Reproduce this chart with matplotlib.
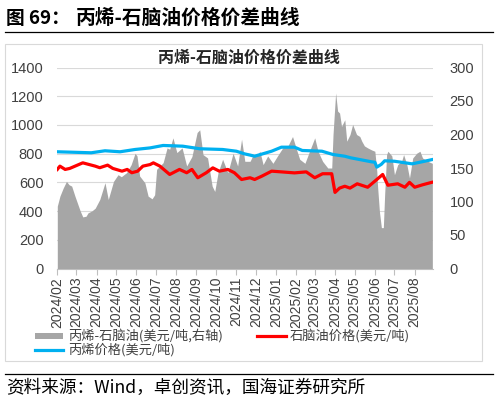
import matplotlib
matplotlib.use("Agg")
import matplotlib.pyplot as plt
import matplotlib.dates as mdates
import pandas as pd
from matplotlib.lines import Line2D
from matplotlib.patches import Rectangle

plt.rcParams['font.family'] = ['Liberation Sans', 'Noto Sans CJK SC', 'DejaVu Sans']
CJK = ['Noto Sans CJK SC', 'DejaVu Sans']

# ---------------- data ----------------
spread_dates = ["2024-02-01","2024-02-05","2024-02-10","2024-02-15","2024-02-19","2024-02-23","2024-02-28",
    "2024-03-07","2024-03-11","2024-03-16","2024-03-19","2024-03-25","2024-03-30","2024-04-06","2024-04-14",
    "2024-04-19","2024-04-27","2024-05-04","2024-05-09","2024-05-17","2024-05-24","2024-05-30","2024-06-02",
    "2024-06-06","2024-06-14","2024-06-19","2024-06-25","2024-06-29","2024-07-02","2024-07-12","2024-07-18",
    "2024-07-22","2024-07-27","2024-08-02","2024-08-10","2024-08-17","2024-08-25","2024-09-02","2024-09-06",
    "2024-09-11","2024-09-18","2024-09-25","2024-09-29","2024-10-04","2024-10-11","2024-10-19","2024-10-27",
    "2024-11-03","2024-11-09","2024-11-14","2024-11-22","2024-11-26","2024-12-02","2024-12-07","2024-12-12",
    "2024-12-19","2024-12-27","2025-01-03","2025-01-11","2025-01-19","2025-01-26","2025-02-01","2025-02-06",
    "2025-02-14","2025-02-21","2025-03-01","2025-03-06","2025-03-13","2025-03-21","2025-03-27","2025-03-29",
    "2025-04-02","2025-04-05","2025-04-08","2025-04-11","2025-04-16","2025-04-19","2025-04-24","2025-04-28",
    "2025-05-04","2025-05-09","2025-05-12","2025-05-16","2025-05-21","2025-05-27","2025-06-01","2025-06-04",
    "2025-06-05","2025-06-08","2025-06-11","2025-06-14","2025-06-16","2025-06-19","2025-06-21","2025-06-27",
    "2025-07-01","2025-07-06","2025-07-12","2025-07-15","2025-07-20","2025-07-24","2025-07-29","2025-08-04",
    "2025-08-09","2025-08-13","2025-08-21","2025-08-28"]
spread_vals = [93,108,120,130,125,123,108,
    86,77,78,83,86,90,103,128,
    103,130,140,137,143,155,172,168,
    138,128,108,104,110,148,158,180,
    178,195,173,180,153,167,203,207,
    170,165,123,115,143,163,143,172,
    153,193,160,160,168,167,175,155,
    168,157,168,180,183,197,178,163,
    157,175,195,175,160,150,150,200,
    262,235,232,212,222,190,200,215,
    200,197,190,183,180,177,175,145,
    125,85,61,61,110,170,175,168,
    140,155,160,170,155,135,165,172,
    175,165,160,157]

naphtha_dates = ["2024-02-01","2024-02-05","2024-02-13","2024-02-20","2024-03-11","2024-03-30","2024-04-06",
    "2024-04-18","2024-04-26","2024-05-10","2024-05-18","2024-05-25","2024-06-03","2024-06-11","2024-06-22",
    "2024-06-27","2024-07-07","2024-07-22","2024-08-06","2024-08-17","2024-08-25","2024-09-03","2024-09-16",
    "2024-09-26","2024-10-06","2024-10-19","2024-10-29","2024-11-09","2024-11-22","2024-11-29","2024-12-10",
    "2024-12-25","2025-01-09","2025-01-29","2025-02-16","2025-03-01","2025-03-13","2025-03-27","2025-04-01",
    "2025-04-08","2025-04-16","2025-04-24","2025-05-05","2025-05-21","2025-06-04","2025-06-13","2025-06-21",
    "2025-07-06","2025-07-17","2025-07-24","2025-08-01","2025-08-13","2025-08-27"]
naphtha_vals = [690,713,690,697,736,713,702,
    720,697,678,690,667,678,713,724,
    736,713,655,690,667,690,632,667,
    701,678,690,667,620,632,620,643,
    678,673,666,673,632,660,660,530,
    560,573,560,590,566,620,655,580,
    590,566,600,566,583,600]

propylene_dates = ["2024-02-01","2024-03-24","2024-04-14","2024-05-07","2024-05-30","2024-06-22","2024-07-12",
    "2024-08-11","2024-09-06","2024-10-11","2024-11-01","2024-11-14","2024-11-22","2024-11-29","2024-12-25",
    "2025-01-09","2025-01-29","2025-02-10","2025-03-12","2025-03-29","2025-04-16","2025-04-25","2025-05-27",
    "2025-06-01","2025-06-04","2025-06-11","2025-06-16","2025-07-01","2025-07-28","2025-08-12","2025-08-28"]
propylene_vals = [813,806,820,813,829,840,857,
    852,834,829,817,798,790,782,817,
    845,845,822,817,794,782,771,743,
    740,706,726,750,747,729,743,759]

left_ticks = [0, 200, 400, 600, 800, 1000, 1200, 1400]
right_ticks = [0, 50, 100, 150, 200, 250, 300]
x_start, x_end = "2024-02-01", "2025-08-29"

title_prefix = "图 69："
title_main = "丙烯-石脑油价格价差曲线"
chart_title = "丙烯-石脑油价格价差曲线"
legend_labels = ["丙烯-石脑油(美元/吨,右轴)", "石脑油价格(美元/吨)", "丙烯价格(美元/吨)"]
source_text = "资料来源：Wind，卓创资讯，国海证券研究所"

GRAY, RED, BLUE = '#A6A6A6', '#FF0000', '#00B0F0'
TXT = '#404040'

# ---------------- figure ----------------
W, H = 499, 403
fig = plt.figure(figsize=(W/100, H/100), dpi=100)

def fx(px): return px / W
def fy(py): return 1 - py / H

ax = fig.add_axes([fx(57.3), fy(268.5), fx(433) - fx(57.3), (268.5 - 67.5) / H])
ax2 = ax.twinx()
ax3 = ax.twinx()

sd = pd.to_datetime(spread_dates)
ax2.fill_between(sd, spread_vals, 0, color=GRAY, linewidth=0)
ax3.plot(pd.to_datetime(naphtha_dates), naphtha_vals, color=RED, lw=2.3, solid_joinstyle='round')
ax3.plot(pd.to_datetime(propylene_dates), propylene_vals, color=BLUE, lw=2.3, solid_joinstyle='round')

for a in (ax, ax2, ax3):
    a.set_xlim(pd.Timestamp(x_start), pd.Timestamp(x_end))
    for s in a.spines.values():
        s.set_visible(False)

ax.set_ylim(0, 1400)
ax3.set_ylim(0, 1400)
ax2.set_ylim(0, 300)
ax.set_yticks(left_ticks)
ax2.set_yticks(right_ticks)
ax3.set_yticks([])
ax.yaxis.grid(True, color='#D9D9D9', lw=0.8)
ax.set_axisbelow(True)
ax.tick_params(axis='y', length=0, pad=10, labelsize=10.5, labelcolor=TXT)
ax2.tick_params(axis='y', length=0, pad=12, labelsize=10.5, labelcolor=TXT)

ax.spines['bottom'].set_visible(True)
ax.spines['bottom'].set_color('#BFBFBF')
ax.xaxis.set_major_locator(mdates.MonthLocator())
ax.xaxis.set_major_formatter(mdates.DateFormatter('%Y/%m'))
ax.tick_params(axis='x', length=4, color='#BFBFBF', labelsize=10, labelcolor=TXT, rotation=90, pad=2)
for a in (ax2, ax3):
    a.tick_params(axis='x', bottom=False, labelbottom=False)

# titles / frame
fig.text(fx(6), fy(18), title_prefix, family=CJK, fontsize=13.5, weight='bold', va='center', ha='left', color='black')
fig.text(fx(76), fy(18), title_main, family=CJK, fontsize=14.2, weight='bold', va='center', ha='left', color='black')
fig.add_artist(Line2D([fx(5), fx(493)], [fy(32), fy(32)], color='black', lw=0.9))
fig.add_artist(Line2D([fx(5), fx(493)], [fy(374), fy(374)], color='black', lw=0.9))
fig.text(fx(6), fy(388), source_text, family=CJK, fontsize=12.7, va='center', ha='left', color='black')
fig.add_artist(Rectangle((fx(5), fy(361)), fx(482) - fx(5), fy(44) - fy(361),
                         fill=False, edgecolor='#D9D9D9', lw=0.8))
fig.text(fx(249), fy(58), chart_title, family=CJK, fontsize=11.5, weight='bold', va='center', ha='center', color='#262626')

# legend
fig.add_artist(Rectangle((fx(35), fy(339)), fx(63) - fx(35), fy(333) - fy(339), color=GRAY, lw=0))
fig.add_artist(Line2D([fx(257), fx(286)], [fy(335.5), fy(335.5)], color=RED, lw=2.3))
fig.add_artist(Line2D([fx(35), fx(63)], [fy(350), fy(350)], color=BLUE, lw=2.3))
fig.text(fx(68), fy(336), legend_labels[0], family=CJK, fontsize=9.5, va='center', ha='left', color=TXT)
fig.text(fx(290), fy(336), legend_labels[1], family=CJK, fontsize=9.5, va='center', ha='left', color=TXT)
fig.text(fx(68), fy(350), legend_labels[2], family=CJK, fontsize=9.5, va='center', ha='left', color=TXT)

fig.savefig("out.png", dpi=100)
